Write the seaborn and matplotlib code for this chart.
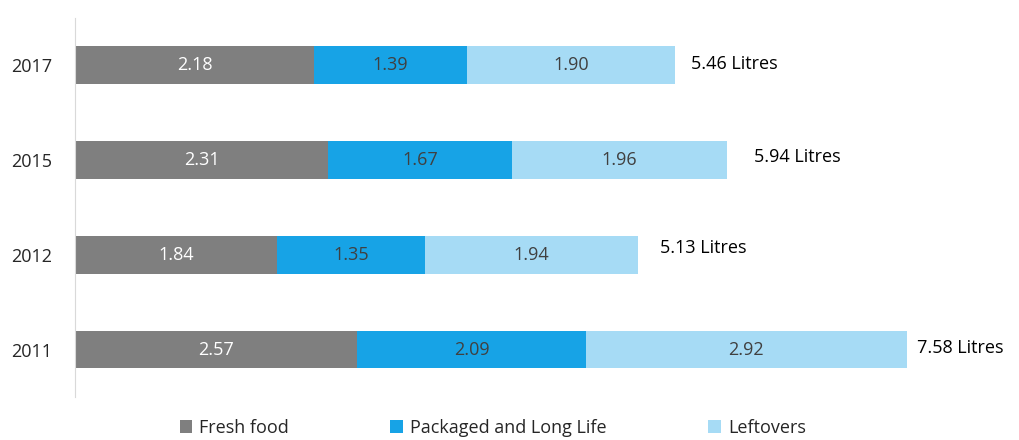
import numpy as np
import pandas as pd
import seaborn as sns
import matplotlib.pyplot as plt
from matplotlib.patches import Patch

years = ["2017", "2015", "2012", "2011"]
fresh = [2.18, 2.31, 1.84, 2.57]
packaged = [1.39, 1.67, 1.35, 2.09]
leftovers = [1.90, 1.96, 1.94, 2.92]
totals = [5.46, 5.94, 5.13, 7.58]
series_names = ["Fresh food", "Packaged and Long Life", "Leftovers"]
colors = ["#7f7f7f", "#17a3e6", "#a6dbf5"]

# hand-placed total labels (pixel offsets from bar end)
label_dx = [17, 27, 22, 10]
label_dy = [1, 3, 7, 2]

sns.set_style("white")
plt.rcParams["font.family"] = ["Open Sans", "DejaVu Sans"]
FS = 13

df = pd.DataFrame({"year": years, "fresh": fresh, "packaged": packaged, "leftovers": leftovers})
df["c1"] = df["fresh"]
df["c2"] = df["fresh"] + df["packaged"]
df["c3"] = df["c2"] + df["leftovers"]

fig = plt.figure(figsize=(10.2, 4.4), dpi=100)
ax = fig.add_axes([75 / 1020, 0.098, 945 / 1020, 0.861])

# stack by overdrawing cumulative sums
for col, c in zip(["c3", "c2", "c1"], colors[::-1]):
    sns.barplot(data=df, x=col, y="year", color=c, orient="h", width=0.4,
                saturation=1, ax=ax, order=years, linewidth=0)

for i in range(len(years)):
    starts = [0, df["c1"][i], df["c2"][i]]
    vals = [fresh[i], packaged[i], leftovers[i]]
    for j, (s, v) in enumerate(zip(starts, vals)):
        ax.text(s + v / 2, i, f"{v:.2f}", ha="center", va="center", fontsize=FS,
                color="white" if j == 0 else "#404040")
    ax.annotate(f"{totals[i]:.2f} Litres", (totals[i], i),
                xytext=(label_dx[i] * 0.72, label_dy[i] * 0.72), textcoords="offset points",
                ha="left", va="center", fontsize=FS, color="black")

ax.set_xlim(0, 945 / 109.7)
ax.set_ylim(3.5, -0.5)
ax.set_xlabel("")
ax.set_ylabel("")
ax.set_xticks([])
ax.tick_params(axis="y", labelsize=FS, length=0, pad=16.5)
for s in ["top", "right", "bottom"]:
    ax.spines[s].set_visible(False)
ax.spines["left"].set_color("#d9d9d9")

handles = [Patch(facecolor=c, edgecolor="none") for c in colors]
fig.legend(handles, series_names, loc="center", bbox_to_anchor=(0.483, 0.028), ncol=3,
           frameon=False, fontsize=FS, handlelength=0.7, handleheight=0.7,
           handletextpad=0.4, columnspacing=5.6, borderpad=0.1)

fig.savefig("out.png", dpi=100)
